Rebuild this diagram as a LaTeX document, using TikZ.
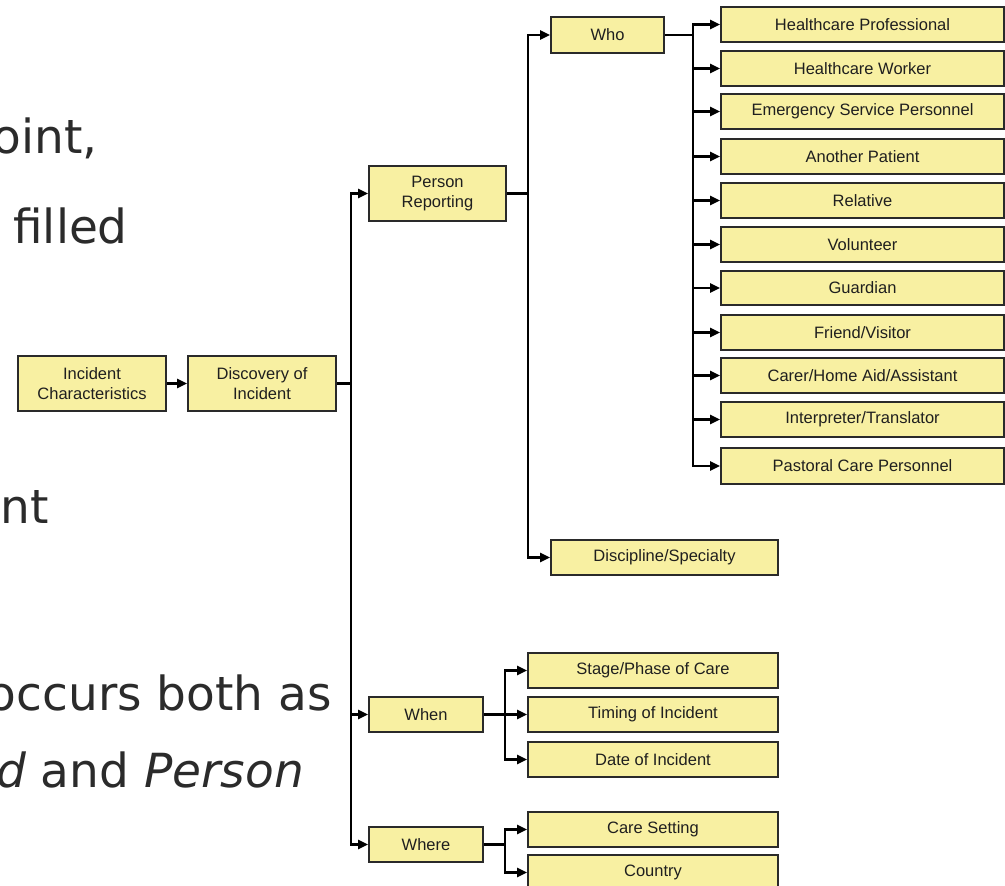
\documentclass[tikz,border=0pt]{standalone}
\usepackage{fontspec}
\setmainfont{Liberation Sans}
\newfontfamily\slidefont{DejaVu Sans}
\usetikzlibrary{arrows.meta}
\definecolor{boxfill}{HTML}{F8F0A2}
\definecolor{boxline}{HTML}{2A2A2A}
\definecolor{slidetext}{HTML}{2B2B2B}
\tikzset{
  box/.style={draw=boxline, line width=1.8pt, fill=boxfill, inner sep=0pt,
    align=center, font=\fontsize{16.5}{20}\selectfont, text=black!88},
  link/.style={draw=black, line width=2.2pt},
  arrowlink/.style={link, -{Triangle[length=10pt,width=9pt]}},
  slide/.style={inner sep=0pt, anchor=base east, text=slidetext,
    font=\slidefont\fontsize{47}{56}\selectfont}
}
% box given by its corners: name, x1, y1, x2, y2, text
\newcommand\bx[6]{%
  \node[box, minimum width={(#4-#2)*1pt}, minimum height={(#5-#3)*1pt}]
    (#1) at ({(#2+#4)/2},{(#3+#5)/2}) {#6};}
\begin{document}
\begin{tikzpicture}[x=1pt, y=-1pt]
\useasboundingbox (0,0) rectangle (1005,886);
\clip (0,0) rectangle (1005,886);
\fill[white] (0,0) rectangle (1005,886);

% slide text behind the chart
\node[slide] (s1) at (98,153) {oint,};
\node[slide] (s2) at (128,243) {filled};
\node[slide] (s3) at (49,523) {nt};
\node[slide] (s4) at (332,710) {occurs both as};
\node[slide] (s5) at (304,787) {\itshape d\upshape{} and \itshape Person};

% boxes
\bx{ic}{18}{356}{166}{411}{Incident\\Characteristics}
\bx{doi}{188}{356}{336}{411}{Discovery of\\Incident}
\bx{pr}{369}{166}{506}{221}{Person\\Reporting}
\bx{when}{369}{697}{483}{732}{When}
\bx{where}{369}{827}{483}{862}{Where}
\bx{who}{551}{17}{664}{53}{Who}
\bx{disc}{551}{540}{778}{575}{Discipline/Specialty}
\bx{hp}{721}{7}{1004}{42}{Healthcare Professional}
\bx{hw}{721}{51}{1004}{86}{Healthcare Worker}
\bx{esp}{721}{94}{1004}{129}{Emergency Service Personnel}
\bx{ap}{721}{139}{1004}{174}{Another Patient}
\bx{rel}{721}{183}{1004}{218}{Relative}
\bx{vol}{721}{227}{1004}{262}{Volunteer}
\bx{gua}{721}{271}{1004}{305}{Guardian}
\bx{fv}{721}{315}{1004}{350}{Friend/Visitor}
\bx{care}{721}{358}{1004}{393}{Carer/Home Aid/Assistant}
\bx{int}{721}{402}{1004}{437}{Interpreter/Translator}
\bx{pcp}{721}{448}{1004}{484}{Pastoral Care Personnel}
\bx{stage}{528}{653}{778}{688}{Stage/Phase of Care}
\bx{timing}{528}{697}{778}{732}{Timing of Incident}
\bx{date}{528}{742}{778}{777}{Date of Incident}
\bx{cs}{528}{812}{778}{847}{Care Setting}
\bx{country}{528}{855}{778}{890}{Country}

% branch points
\coordinate (j1) at (351,383.5);
\coordinate (j2) at (528,193.5);
\coordinate (j3) at (693,35);
\coordinate (j4) at (505,714.5);
\coordinate (j5) at (505,844.5);

% connectors
\draw[arrowlink] (ic) -- (doi);
\draw[link] (doi.east) -- (j1);
\foreach \t in {pr,when,where} \draw[arrowlink] (j1) |- (\t.west);
\draw[link] (pr.east) -- (j2);
\foreach \t in {who,disc} \draw[arrowlink] (j2) |- (\t.west);
\draw[link] (who.east) -- (j3);
\foreach \t in {hp,hw,esp,ap,rel,vol,gua,fv,care,int,pcp}
  \draw[arrowlink] (j3) |- (\t.west);
\draw[link] (when.east) -- (j4);
\foreach \t in {stage,timing,date} \draw[arrowlink] (j4) |- (\t.west);
\draw[link] (where.east) -- (j5);
\foreach \t in {cs,country} \draw[arrowlink] (j5) |- (\t.west);
\end{tikzpicture}
\end{document}
